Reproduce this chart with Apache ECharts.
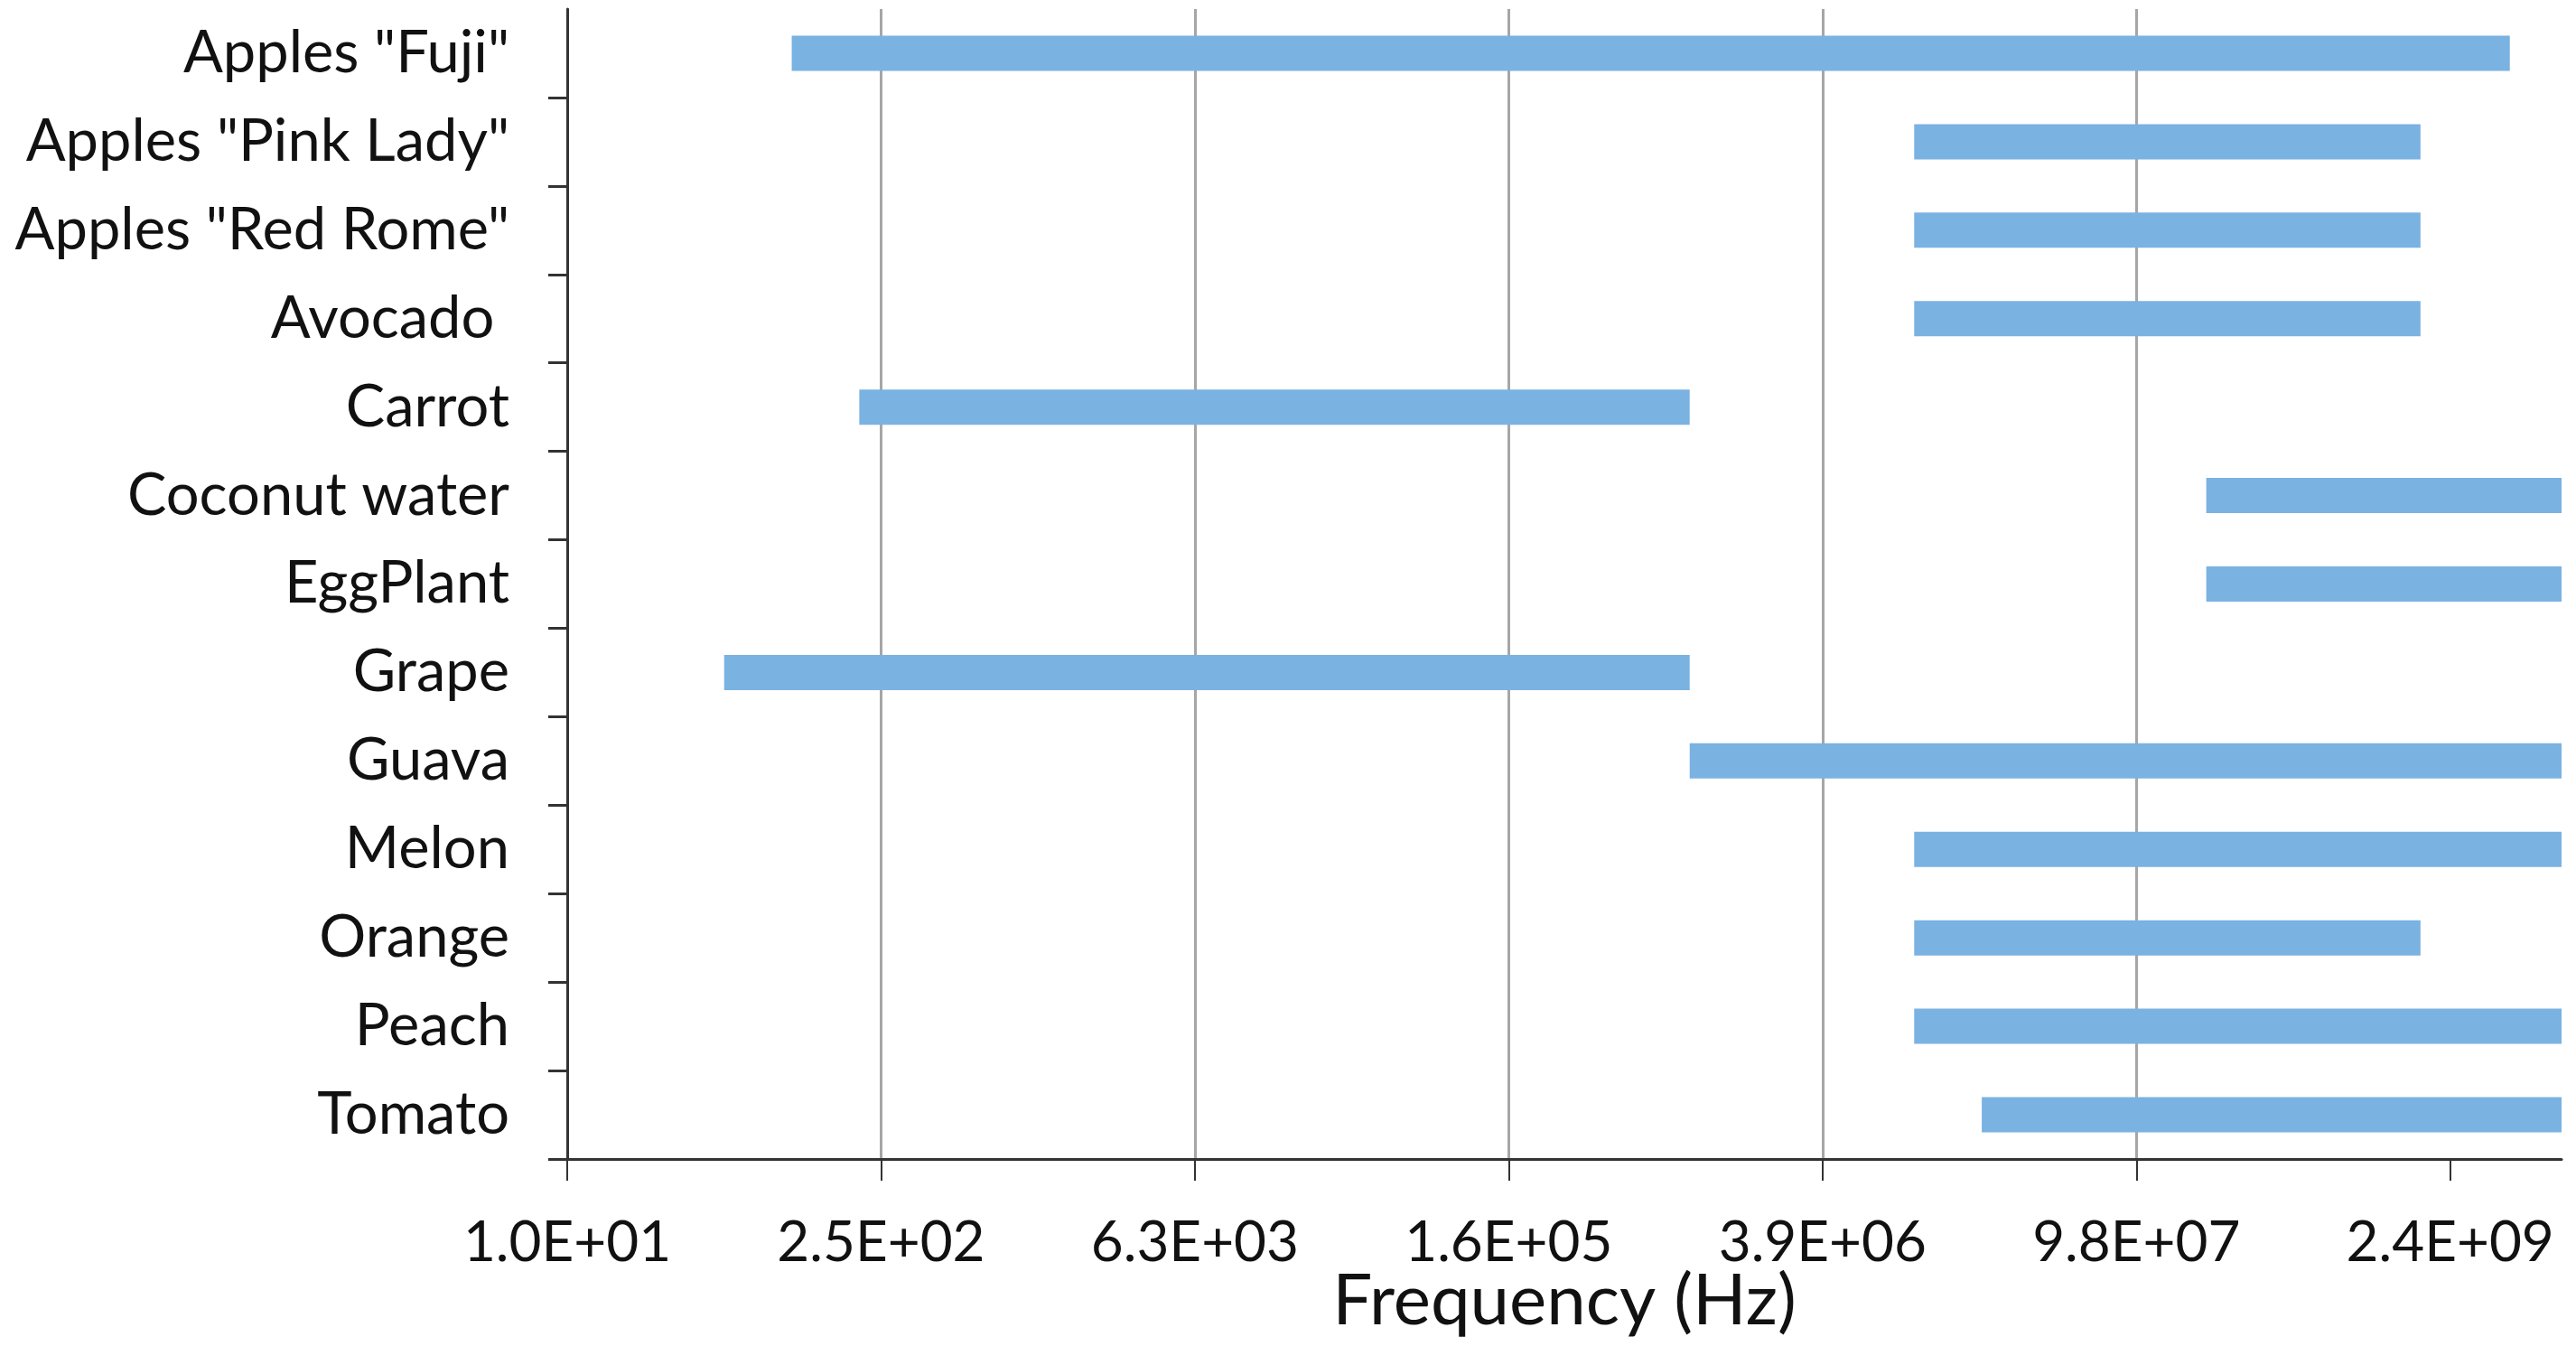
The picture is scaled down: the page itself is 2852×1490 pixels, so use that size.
<!DOCTYPE html>
<html>
<head>
<meta charset="utf-8">
<script src="https://cdn.jsdelivr.net/npm/echarts@6/dist/echarts.min.js"></script>
<style>
html,body{margin:0;padding:0;background:#ffffff;}
#chart{width:2852px;height:1490px;}
</style>
</head>
<body>
<div id="chart"></div>
<script>
// ---- data ----
const categories = ['Apples "Fuji"', 'Apples "Pink Lady"', 'Apples "Red Rome"', 'Avocado ', 'Carrot', 'Coconut water', 'EggPlant', 'Grape', 'Guava', 'Melon', 'Orange', 'Peach', 'Tomato'];
const startHz = [100, 1e7, 1e7, 1e7, 200, 2e8, 2e8, 50, 1e6, 1e7, 1e7, 1e7, 2e7];
const endHz = [4.5e9, 1.8e9, 1.8e9, 1.8e9, 1e6, 7.65e9, 7.65e9, 1e6, 7.65e9, 7.65e9, 1.8e9, 7.65e9, 7.65e9];
const tickLabels = ['1.0E+01', '2.5E+02', '6.3E+03', '1.6E+05', '3.9E+06', '9.8E+07', '2.4E+09'];
const axisMinHz = 10;
const axisMaxHz = 7.65e9;
const logBase = 25;

// log transform onto the axis (axis unit = one factor of 25 above 10 Hz)
function toAxis(v) { return Math.log(v / axisMinHz) / Math.log(logBase); }

const baseVals = startHz.map(toAxis);
const spanVals = endHz.map((e, i) => toAxis(e) - toAxis(startHz[i]));

const FONT = 'Lato';
const chart = echarts.init(document.getElementById('chart'), null, {renderer: 'canvas'});
chart.setOption({
  animation: false,
  backgroundColor: '#ffffff',
  grid: {left: 628, right: 16, top: 10, bottom: 207, containLabel: false, outerBoundsMode: 'none'},
  xAxis: {
    type: 'value',
    min: 0,
    max: toAxis(axisMaxHz),
    interval: 1,
    name: 'Frequency (Hz)',
    nameLocation: 'middle',
    nameGap: 119,
    nameMoveOverlap: false,
    nameTextStyle: {fontFamily: FONT, fontSize: 78, color: '#111'},
    axisLine: {show: true, lineStyle: {color: '#333', width: 3}},
    axisTick: {show: true, length: 24, lineStyle: {color: '#333', width: 2}, customValues: [0, 1, 2, 3, 4, 5, 6]},
    splitLine: {show: true, showMinLine: false, showMaxLine: false, lineStyle: {color: '#a6a6a6', width: 3}},
    axisLabel: {
      fontFamily: FONT, fontSize: 62, color: '#111', margin: 62,
      showMaxLabel: false,
      formatter: function (v) {
        const i = Math.round(v);
        return Math.abs(v - i) < 1e-6 && tickLabels[i] !== undefined ? tickLabels[i] : '';
      }
    }
  },
  yAxis: {
    type: 'category',
    inverse: true,
    data: categories,
    axisLine: {show: true, lineStyle: {color: '#333', width: 3}},
    axisTick: {show: true, length: 21, lineStyle: {color: '#333', width: 3},
      interval: function (idx) { return idx !== 0; }},
    axisLabel: {fontFamily: FONT, fontSize: 65, color: '#111', margin: 64, interval: 0},
    splitLine: {show: false}
  },
  series: [
    {
      name: 'base', type: 'bar', stack: 'range', barWidth: 39,
      itemStyle: {color: 'rgba(0,0,0,0)'},
      data: baseVals, silent: true
    },
    {
      name: 'range', type: 'bar', stack: 'range', barWidth: 39,
      itemStyle: {color: '#7ab2e2'},
      data: spanVals
    }
  ]
});
</script>
</body>
</html>
